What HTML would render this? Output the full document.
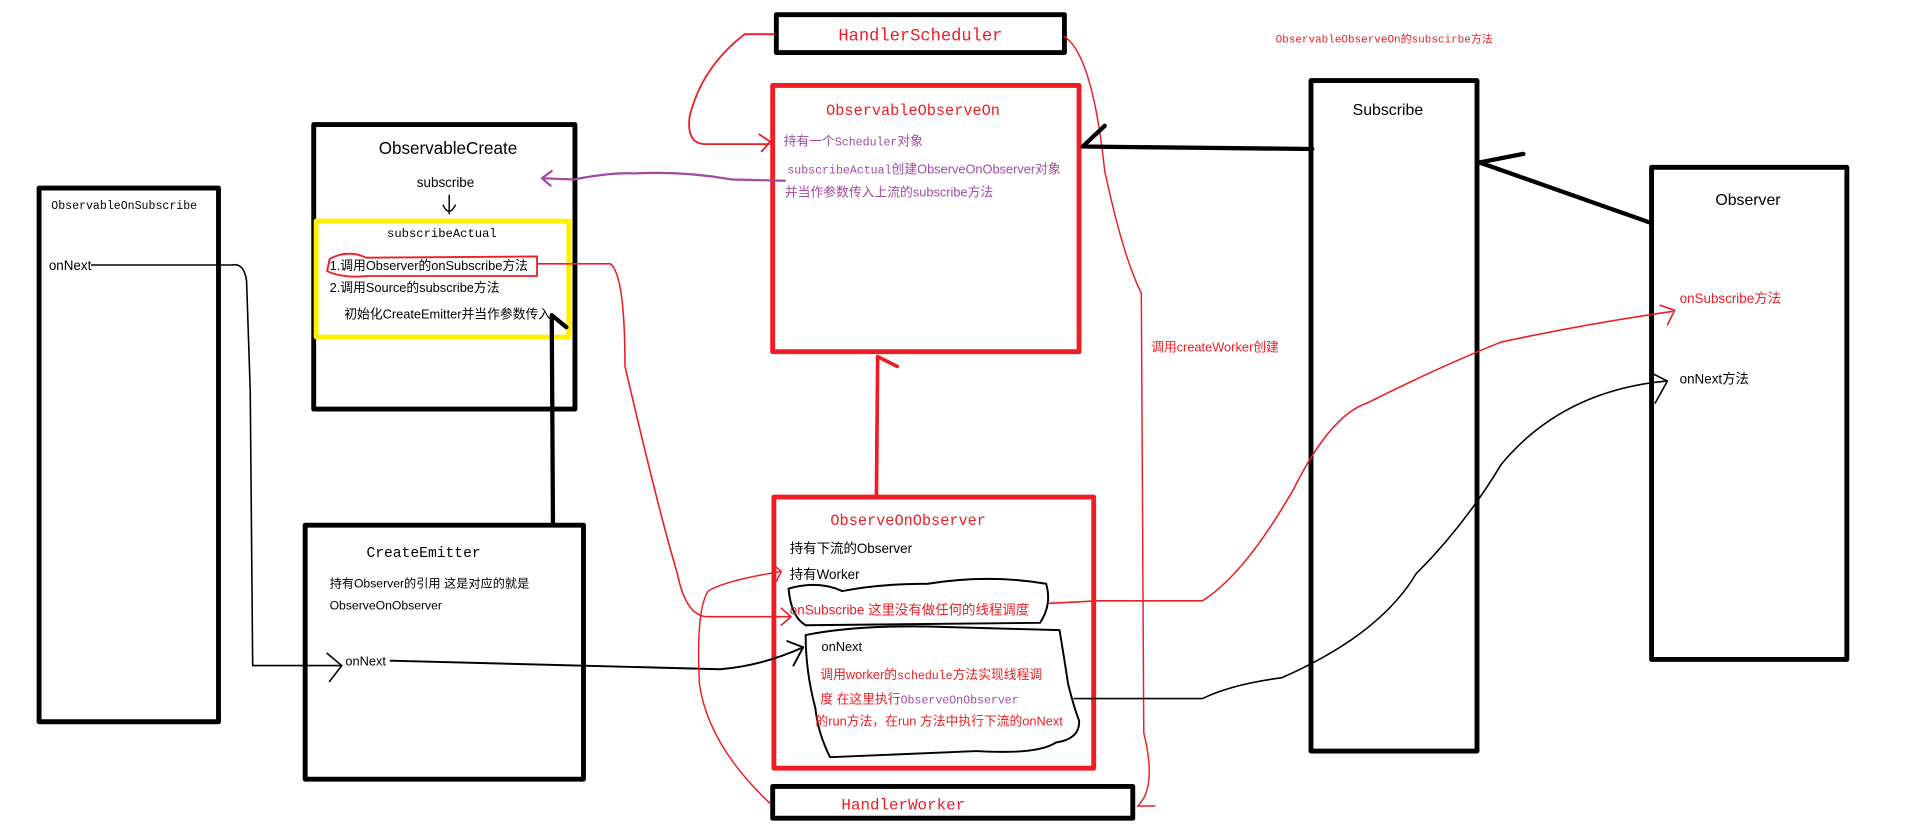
<!DOCTYPE html>
<html><head><meta charset="utf-8"><style>
html,body{margin:0;padding:0;background:#fff;overflow:hidden}
svg{display:block}
.s{font-family:"Liberation Sans","Noto Sans CJK SC",sans-serif}
.m{font-family:"Liberation Mono","Noto Sans CJK SC",monospace}
</style></head><body>
<svg width="1914" height="828" viewBox="0 0 1568 678" preserveAspectRatio="none" xmlns="http://www.w3.org/2000/svg">
<g fill="none" stroke-linecap="round" stroke-linejoin="round">
<rect x="32" y="154" width="147" height="437" stroke="#000" stroke-width="4"/>
<rect x="257" y="102" width="214" height="233" stroke="#000" stroke-width="4"/>
<rect x="259" y="181" width="207" height="95" stroke="#ffee00" stroke-width="4"/>
<rect x="636" y="12" width="236" height="31" stroke="#000" stroke-width="4"/>
<rect x="633" y="70" width="251" height="218" stroke="#ee1c24" stroke-width="4"/>
<rect x="634" y="407" width="262" height="222" stroke="#ee1c24" stroke-width="4"/>
<rect x="633" y="644" width="295" height="26" stroke="#000" stroke-width="4"/>
<rect x="250" y="430" width="228" height="208" stroke="#000" stroke-width="4"/>
<rect x="1074" y="66" width="136" height="549" stroke="#000" stroke-width="4"/>
<rect x="1353" y="137" width="160" height="403" stroke="#000" stroke-width="4"/>

<path d="M270,212 Q285,204 300,211 L440,210 L440,226 L300,226 Q280,228 268,222 Z" stroke="#ee1c24" stroke-width="1.5"/>
<path d="M368,160 L368,175 M363,168 Q368,178 373,168" stroke="#000" stroke-width="1.2"/>
<path d="M643,148 L600,147 Q560,140 520,142 Q500,141 470,147 L446,146 M452,140 L444,146 L451,152" stroke="#a349a4" stroke-width="1.8"/>
<path d="M634,28 L610,28 Q575,55 565,95 Q562,118 578,118 L630,118 M622,110 L631,116 L624,124" stroke="#ee1c24" stroke-width="1.5"/>
<path d="M872,30 Q895,45 905,140 Q920,210 935,240 L937,600 Q948,645 932,660 L946,660" stroke="#ee1c24" stroke-width="1.2"/>
<path d="M718,406 L719,292 M719,292 L735,300" stroke="#ee1c24" stroke-width="3"/>
<path d="M453,428 L452,258 L464,268" stroke="#000" stroke-width="3.5"/>
<path d="M75,217 L190,217 Q200,215 202,230 L205,320 L207,545 L280,545 M268,535 L280,545 L270,558" stroke="#000" stroke-width="1.3"/>
<path d="M320,541 L590,548 Q625,545 658,530 M645,525 L658,530 L650,545" stroke="#000" stroke-width="1.6"/>
<path d="M440,216 L500,216 Q512,225 512,300 Q540,420 555,470 Q562,505 580,505 L648,505 M640,498 L648,505 L640,512" stroke="#ee1c24" stroke-width="1.3"/>
<path d="M631,658 Q580,610 573,560 Q570,500 580,484 Q595,475 640,468 M633,462 L640,468 L636,476" stroke="#ee1c24" stroke-width="1.2"/>
<path d="M646,482 Q670,475 690,484 Q720,478 760,478 Q810,470 857,478 Q862,495 852,510 L660,512 Q648,505 646,482 Z" stroke="#000" stroke-width="1.6"/>
<path d="M660,520 Q700,512 760,513 L868,516 Q872,540 875,560 Q880,580 884,590 Q885,605 865,608 Q850,618 800,615 L680,620 Q670,600 668,580 Q660,550 660,520 Z" stroke="#000" stroke-width="1.6"/>
<path d="M860,494 L900,492 L985,492 Q1020,470 1060,400 Q1090,340 1120,330 Q1180,300 1230,280 Q1300,265 1370,255 M1360,250 L1372,254 L1366,266" stroke="#ee1c24" stroke-width="1.3"/>
<path d="M880,572 L985,572 Q1010,560 1050,555 Q1130,520 1160,470 Q1200,430 1230,380 Q1280,320 1365,312 M1352,305 L1366,312 L1356,330" stroke="#000" stroke-width="1.3"/>
<path d="M1075,122 L980,121 L887,120 L905,103" stroke="#000" stroke-width="3.5"/>
<path d="M1351,182 L1212,133 L1248,126" stroke="#000" stroke-width="3.5"/>
</g>

<g class="s" font-size="11">
<text x="42" y="171" class="m" font-size="9.5">ObservableOnSubscribe</text>
<text x="40" y="221">onNext</text>
<text x="367" y="126" text-anchor="middle" font-size="14">ObservableCreate</text>
<text x="365" y="153" text-anchor="middle">subscribe</text>
<text x="362" y="194" text-anchor="middle" class="m" font-size="10">subscribeActual</text>
<text x="270" y="221" font-size="10.5">1.调用Observer的onSubscribe方法</text>
<text x="270" y="239" font-size="10.5">2.调用Source的subscribe方法</text>
<text x="282" y="261" font-size="10.5">初始化CreateEmitter并当作参数传入</text>
<text x="754" y="33" text-anchor="middle" class="m" font-size="14" fill="#ee1c24">HandlerScheduler</text>
<text x="748" y="94" text-anchor="middle" class="m" font-size="12.5" fill="#ee1c24">ObservableObserveOn</text>
<text x="642" y="119" font-size="10.5" fill="#a349a4">持有一个<tspan class="m" font-size="9.5">Scheduler</tspan>对象</text>
<text x="645" y="142" font-size="10.5" fill="#a349a4"><tspan class="m" font-size="9.5">subscribeActual</tspan>创建ObserveOnObserver对象</text>
<text x="643" y="161" font-size="10.5" fill="#a349a4">并当作参数传入上流的subscribe方法</text>
<text x="1045" y="35" class="m" font-size="9" fill="#ee1c24">ObservableObserveOn的subscirbe方法</text>
<text x="1137" y="94" text-anchor="middle" font-size="13">Subscribe</text>
<text x="1432" y="168" text-anchor="middle" font-size="13">Observer</text>
<text x="1376" y="248" fill="#ee1c24">onSubscribe方法</text>
<text x="1376" y="314">onNext方法</text>
<text x="943" y="288" fill="#ee1c24" font-size="10.5">调用createWorker创建</text>
<text x="744" y="430" text-anchor="middle" class="m" font-size="12.5" fill="#ee1c24">ObserveOnObserver</text>
<text x="647" y="453">持有下流的Observer</text>
<text x="647" y="474">持有Worker</text>
<text x="647" y="503" fill="#ee1c24">onSubscribe  这里没有做任何的线程调度</text>
<text x="673" y="533" font-size="10.5">onNext</text>
<text x="672" y="556" fill="#ee1c24" font-size="10.5">调用worker的<tspan class="m" font-size="9.5">schedule</tspan>方法实现线程调</text>
<text x="672" y="576" fill="#ee1c24" font-size="10.5">度 在这里执行<tspan class="m" font-size="9.5" fill="#a349a4">ObserveOnObserver</tspan></text>
<text x="668" y="594" fill="#ee1c24" font-size="10.5">的run方法，在run 方法中执行下流的onNext</text>
<text x="740" y="663" text-anchor="middle" class="m" font-size="13" fill="#ee1c24">HandlerWorker</text>
<text x="347" y="456" text-anchor="middle" class="m" font-size="12">CreateEmitter</text>
<text x="270" y="481" font-size="10">持有Observer的引用 这是对应的就是</text>
<text x="270" y="499" font-size="10">ObserveOnObserver</text>
<text x="283" y="545" font-size="10.5">onNext</text>
</g>
</svg>
</body></html>
